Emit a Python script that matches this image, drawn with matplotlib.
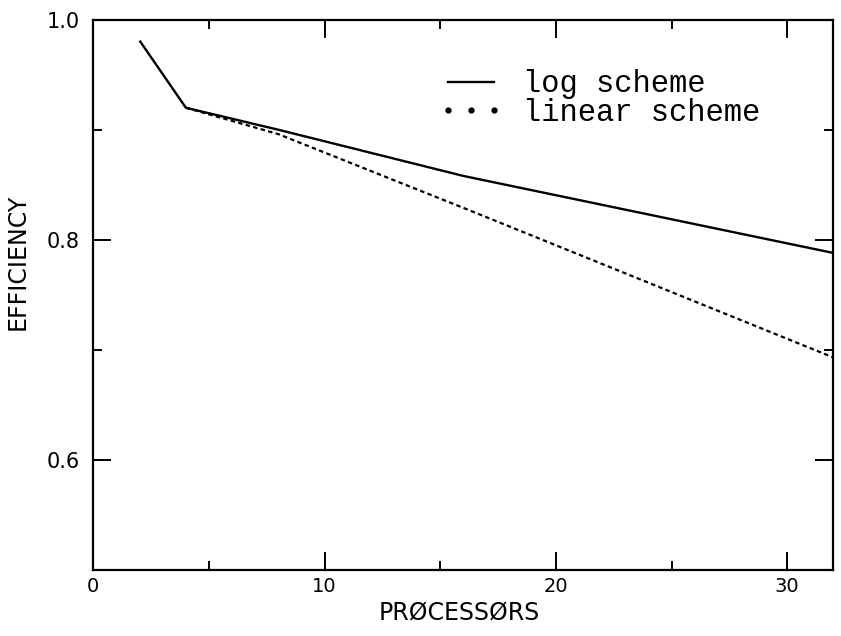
import matplotlib
matplotlib.use("Agg")
import matplotlib.pyplot as plt
from matplotlib.lines import Line2D

# values
log_procs = [2, 4, 8, 16, 32]
log_eff = [0.981, 0.920, 0.900, 0.858, 0.788]
lin_procs = [4, 8, 16, 32]
lin_eff = [0.920, 0.896, 0.829, 0.693]

x_major = [0, 10, 20, 30]
x_minor = [5, 15, 25]
y_major = [0.6, 0.8, 1.0]
y_minor = [0.7, 0.9]
labels = ["log scheme", "linear scheme"]

plt.rcParams['font.family'] = ['DejaVu Sans']

fig = plt.figure(figsize=(8.41, 6.36), dpi=100)
ax = fig.add_axes([0.111, 0.104, 0.880, 0.865])

ax.plot(log_procs, log_eff, color='black', lw=1.7, solid_capstyle='butt')
ax.plot(lin_procs, lin_eff, color='black', lw=1.6, dashes=(2, 1.5))

ax.set_xlim(0, 32)
ax.set_ylim(0.5, 1.0)
ax.set_xticks(x_major)
ax.set_xticklabels([str(v) for v in x_major], fontsize=14)
ax.set_xticks(x_minor, minor=True)
ax.set_yticks(y_major)
ax.set_yticklabels([f"{v:.1f}" for v in y_major], fontsize=15)
ax.set_yticks(y_minor, minor=True)

ax.tick_params(which='both', direction='in', top=True, right=True, width=1.4)
ax.tick_params(which='major', length=13)
ax.tick_params(which='minor', length=6.5)
ax.tick_params(axis='x', which='major', pad=5)
ax.tick_params(axis='y', which='major', pad=10)
for sp in ax.spines.values():
    sp.set_linewidth(1.6)

ax.set_xlabel("PRØCESSØRS", fontsize=17)
ax.xaxis.set_label_coords(0.494, -0.055)
ax.set_ylabel("EFFICIENCY", fontsize=17)
ax.yaxis.set_label_coords(-0.086, 0.56)

# legend: solid line sample and three dots, typewriter text
handles = [Line2D([], [], color='black', lw=1.7),
           Line2D([], [], color='black', ls='none', marker='o', ms=3.5)]
ax.legend(handles, labels, loc='upper left', bbox_to_anchor=(0.467, 0.91),
          frameon=False, numpoints=3, handlelength=2.1, handletextpad=0.65,
          labelspacing=-0.05, borderpad=0, borderaxespad=0,
          prop={'family': 'Liberation Mono', 'size': 22})

fig.savefig("out.png", dpi=100)
